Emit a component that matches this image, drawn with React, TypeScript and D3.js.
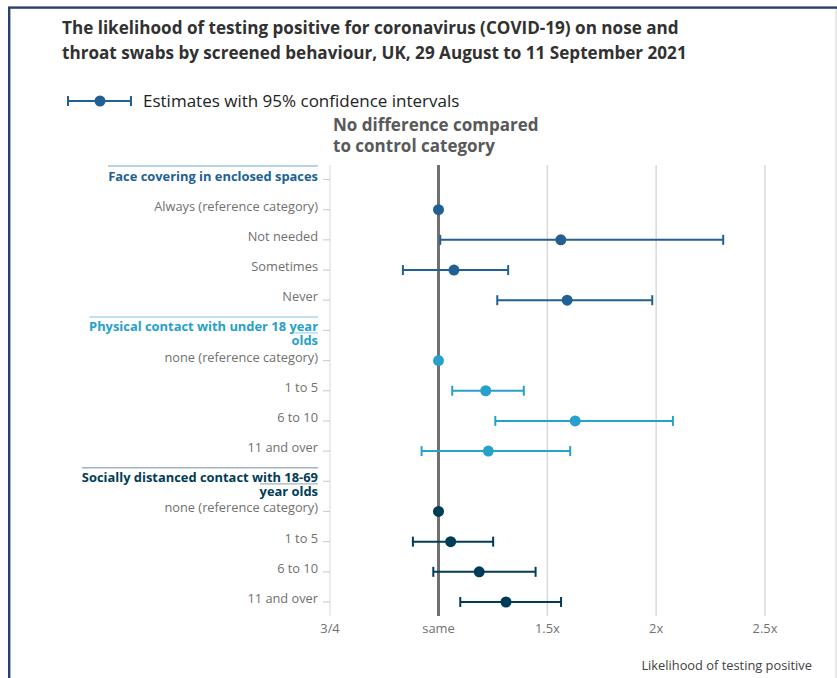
import React from "react";
import * as d3 from "d3";

const titleLines = [
  "The likelihood of testing positive for coronavirus (COVID-19) on nose and",
  "throat swabs by screened behaviour, UK, 29 August to 11 September 2021",
];
const legendLabel = "Estimates with 95% confidence intervals";
const annotationLines = ["No difference compared", "to control category"];
const xAxisTitle = "Likelihood of testing positive";

const xTickValues = [0.75, 1, 1.5, 2, 2.5];
const xTickLabels = ["3/4", "same", "1.5x", "2x", "2.5x"];

const groupHeaders = [
  ["Face covering in enclosed spaces"],
  ["Physical contact with under 18 year", "olds"],
  ["Socially distanced contact with 18-69", "year olds"],
];
const groupColors = ["#206095", "#27a0cc", "#003c57"];
const groupRuleColors = ["#9fc4de", "#a9d8ec", "#9fb4c0"];

const faceCategories = ["Always (reference category)", "Not needed", "Sometimes", "Never"];
const faceEstimate = [1, 1.562, 1.071, 1.591];
const faceLower = [null, 1.008, 0.918, 1.27];
const faceUpper = [null, 2.308, 1.32, 1.982];

const childCategories = ["none (reference category)", "1 to 5", "6 to 10", "11 and over"];
const childEstimate = [1, 1.217, 1.628, 1.229];
const childLower = [null, 1.063, 1.261, 0.961];
const childUpper = [null, 1.392, 2.077, 1.605];

const adultCategories = ["none (reference category)", "1 to 5", "6 to 10", "11 and over"];
const adultEstimate = [1, 1.056, 1.187, 1.31];
const adultLower = [null, 0.941, 0.988, 1.1];
const adultUpper = [null, 1.251, 1.446, 1.563];

const groupCategories = [faceCategories, childCategories, adultCategories];
const groupEstimates = [faceEstimate, childEstimate, adultEstimate];
const groupLowers = [faceLower, childLower, adultLower];
const groupUppers = [faceUpper, childUpper, adultUpper];

type Row = {
  key: string;
  group: number;
  header: boolean;
  label: string;
  est?: number;
  lo?: number | null;
  hi?: number | null;
};

const rows: Row[] = [];
groupHeaders.forEach((h, g) => {
  rows.push({ key: `g${g}`, group: g, header: true, label: h.join(" ") });
  groupCategories[g].forEach((c, i) => {
    rows.push({
      key: `g${g}-${i}`,
      group: g,
      header: false,
      label: c,
      est: groupEstimates[g][i],
      lo: groupLowers[g][i],
      hi: groupUppers[g][i],
    });
  });
});

const FONT = "'Open Sans', sans-serif";

export default function App() {
  const W = 837;
  const H = 678;
  const x = d3.scaleLinear().domain([0.75, 1, 2.5]).range([330, 438.5, 765]);
  const y = d3
    .scalePoint<string>()
    .domain(rows.map((r) => r.key))
    .range([179.5, 602]);
  const plotTop = 165;
  const plotBottom = 616;
  const axisX = x(0.75);
  const labelRight = 318;

  return (
    <svg
      width={W}
      height={H}
      style={{ position: "absolute", left: 0, top: 0, background: "#fff" }}
      fontFamily={FONT}
    >
      {/* frame */}
      <rect x={9.2} y={7.6} width={1000} height={1000} fill="none" stroke="#2b3f6c" strokeWidth={2.4} />
      <line x1={836} x2={836} y1={9} y2={H} stroke="#e0e0e0" strokeWidth={1.5} />

      {/* title */}
      {titleLines.map((t, i) => (
        <text key={i} x={62} y={34 + i * 25} fontSize={17.1} fontWeight={700} fill="#323132">
          {t}
        </text>
      ))}

      {/* legend */}
      <g stroke={groupColors[0]} strokeWidth={2}>
        <line x1={68} x2={131} y1={101} y2={101} />
        <line x1={68} x2={68} y1={96} y2={106} />
        <line x1={131} x2={131} y1={96} y2={106} />
      </g>
      <circle cx={100} cy={101} r={5.5} fill={groupColors[0]} />
      <text x={143} y={107} fontSize={17} fill="#222">
        {legendLabel}
      </text>

      {/* annotation */}
      {annotationLines.map((t, i) => (
        <text key={i} x={333} y={131 + i * 20.5} fontSize={17} fontWeight={700} fill="#595959">
          {t}
        </text>
      ))}

      {/* grid lines */}
      {xTickValues.slice(2).map((v) => (
        <line key={v} x1={x(v)} x2={x(v)} y1={plotTop} y2={plotBottom} stroke="#d9d9d9" strokeWidth={1.5} />
      ))}
      {/* y axis */}
      <line x1={axisX} x2={axisX} y1={plotTop} y2={plotBottom} stroke="#e0e0e0" strokeWidth={1.2} />
      {rows.map((r) => (
        <line key={r.key} x1={axisX - 7} x2={axisX} y1={y(r.key)!} y2={y(r.key)!} stroke="#d0d0d0" strokeWidth={1.2} />
      ))}

      {/* same line */}
      <line x1={x(1)} x2={x(1)} y1={plotTop} y2={plotBottom} stroke="#707070" strokeWidth={3} />

      {/* x tick labels */}
      {xTickValues.map((v, i) => (
        <text key={v} x={x(v)} y={632.5} fontSize={12.9} fill="#707070" textAnchor="middle">
          {xTickLabels[i]}
        </text>
      ))}
      <text x={812} y={669.5} fontSize={12.85} fill="#414042" textAnchor="end">
        {xAxisTitle}
      </text>

      {/* row labels */}
      {rows.map((r) => {
        const yy = y(r.key)!;
        if (r.header) {
          const lines = groupHeaders[r.group];
          const color = groupColors[r.group];
          const widths = [
            [108, 318],
            [89.5, 318],
            [82, 318],
          ][r.group];
          const under = [null, [290, 318], [260, 318]][r.group];
          return (
            <g key={r.key}>
              <line x1={widths[0]} x2={widths[1]} y1={yy - 13.5} y2={yy - 13.5} stroke={groupRuleColors[r.group]} strokeWidth={1.5} />
              {under && (
                <line x1={under[0]} x2={under[1]} y1={yy + 2.5} y2={yy + 2.5} stroke={groupRuleColors[r.group]} strokeWidth={1.3} />
              )}
              {lines.map((t, i) => (
                <text key={i} x={labelRight} y={yy + 1 + i * 14} fontSize={12.9} fontWeight={700} fill={color} textAnchor="end">
                  {t}
                </text>
              ))}
            </g>
          );
        }
        return (
          <text key={r.key} x={labelRight} y={yy + 1} fontSize={12.8} fill="#707070" textAnchor="end">
            {r.label}
          </text>
        );
      })}

      {/* marks */}
      {rows
        .filter((r) => !r.header)
        .map((r) => {
          const yy = y(r.key)!;
          const color = groupColors[r.group];
          return (
            <g key={r.key}>
              {r.lo != null && r.hi != null && (
                <g stroke={color} strokeWidth={2}>
                  <line x1={x(r.lo)} x2={x(r.hi)} y1={yy} y2={yy} />
                  <line x1={x(r.lo)} x2={x(r.lo)} y1={yy - 5} y2={yy + 5} />
                  <line x1={x(r.hi)} x2={x(r.hi)} y1={yy - 5} y2={yy + 5} />
                </g>
              )}
              <circle cx={x(r.est!)} cy={yy} r={5.5} fill={color} />
            </g>
          );
        })}
    </svg>
  );
}
